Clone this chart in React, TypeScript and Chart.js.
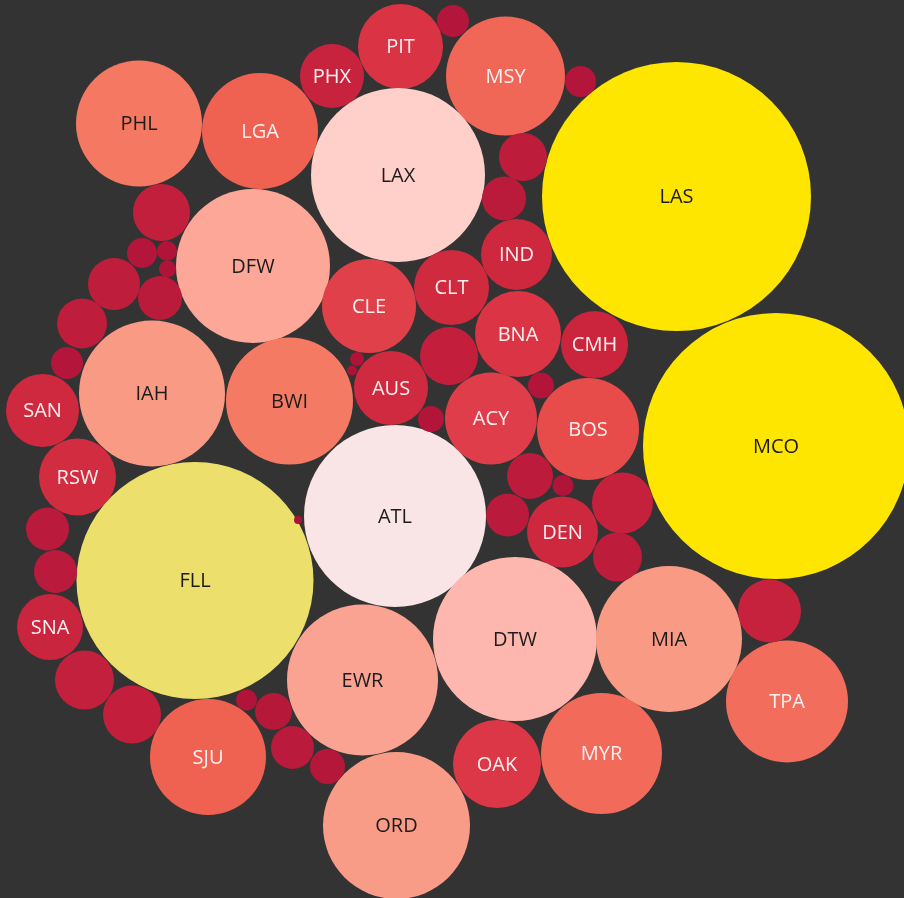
import React, { useEffect, useRef } from "react";
import { Chart, registerables } from "chart.js";

Chart.register(...registerables);

// Airport codes ("" = unlabeled bubble)
const labels: string[] = [
  "PIT", "PHX", "MSY", "PHL", "LGA", "LAX", "LAS", "DFW", "IND", "CLT",
  "CLE", "BNA", "CMH", "IAH", "BWI", "AUS", "ACY", "BOS", "MCO", "SAN",
  "RSW", "ATL", "DEN", "FLL", "SNA", "DTW", "MIA", "TPA", "EWR", "SJU",
  "OAK", "MYR", "ORD",
  "", "", "", "", "", "", "", "", "", "",
  "", "", "", "", "", "", "", "", "", "",
  "", "", "", "", "", "", "", "", "", "",
  "", "",
];

// packed-bubble layout values (x, y) and bubble sizes
const xValues: number[] = [
  400.5, 332, 505.5, 139, 260, 398, 676.5, 253, 516.5, 451.5,
  369, 518, 594.5, 152, 289.5, 391, 491, 588, 776, 42.5,
  77.5, 395, 562.5, 195, 50, 515, 669, 787, 362.5, 208,
  497, 601.5, 396.5,
  453, 580.5, 523, 504, 161.5, 142, 167, 167.5, 114, 160,
  82, 67, 449, 357, 352, 431, 541, 530, 563, 622.5,
  507.5, 617.5, 298, 47.5, 55.5, 769.5, 84.5, 132, 246.5, 273.5,
  292.5, 327.5,
];

const yValues: number[] = [
  46.5, 76, 76, 123.5, 131, 175, 196.5, 266, 254.5, 287.5,
  306, 334, 344.5, 393.5, 401, 388, 418.5, 429, 446, 410.5,
  477, 516, 532, 580.5, 627, 639, 639, 701.5, 680, 757,
  764, 753.5, 825.5,
  21, 81.5, 157, 198.5, 212.5, 253, 251, 269, 284, 298,
  323.5, 363, 356, 359, 370.5, 419, 385.5, 476, 485.5, 503,
  515, 557, 520, 529, 571.5, 611, 680, 714.5, 700, 711.5,
  747.5, 766.5,
];

const sizes: number[] = [
  42.5, 32, 59.5, 63, 58, 87, 134.5, 77, 35.5, 37.5,
  47, 43, 33.5, 73, 63.5, 37, 46, 51, 133, 36.5,
  38.5, 91, 35.5, 118.5, 33, 82, 73, 61, 75.5, 58,
  44, 60.5, 73.5,
  16, 15.5, 24, 22, 28.5, 15, 10, 8.5, 26, 22,
  25, 16, 29, 7, 5, 13, 13, 23, 10.5, 30.5,
  21.5, 24.5, 4, 21.5, 21.5, 31.5, 29.5, 29, 10.5, 18.5,
  21.5, 17.5,
];

// colour scale (size -> colour)
const colorStops: [number, string][] = [
  [4, "#ad1236"],
  [16, "#b3163a"],
  [24, "#bd1c3b"],
  [30, "#c4203d"],
  [34, "#cc263e"],
  [38, "#d02b3f"],
  [43, "#db3444"],
  [47, "#e0404a"],
  [51, "#e84c4a"],
  [58, "#ef6252"],
  [60.5, "#f16a5a"],
  [63, "#f57862"],
  [73, "#f99a84"],
  [75.5, "#fba392"],
  [77, "#fca797"],
  [82, "#feb7ae"],
  [87, "#ffd0ca"],
  [91, "#f9e5e5"],
  [118.5, "#ecdf6c"],
  [133, "#ffe600"],
];

function hexToRgb(h: string): number[] {
  return [1, 3, 5].map((i) => parseInt(h.slice(i, i + 2), 16));
}

function colorFor(v: number): string {
  if (v <= colorStops[0][0]) return colorStops[0][1];
  for (let i = 1; i < colorStops.length; i++) {
    const [v1, c1] = colorStops[i];
    const [v0, c0] = colorStops[i - 1];
    if (v <= v1) {
      const t = (v - v0) / (v1 - v0);
      const a = hexToRgb(c0);
      const b = hexToRgb(c1);
      const m = a.map((x, k) => Math.round(x + (b[k] - x) * t));
      return `rgb(${m[0]},${m[1]},${m[2]})`;
    }
  }
  return colorStops[colorStops.length - 1][1];
}

const labelPlugin = {
  id: "bubbleLabels",
  afterDatasetsDraw(chart: any) {
    const ctx = chart.ctx;
    const meta = chart.getDatasetMeta(0);
    ctx.save();
    ctx.font = "20px 'Open Sans'";
    ctx.textAlign = "center";
    ctx.textBaseline = "middle";
    meta.data.forEach((el: any, i: number) => {
      const text = labels[i];
      if (!text) return;
      ctx.fillStyle = sizes[i] >= 62.5 ? "#1c1c1c" : "#fdf0f0";
      ctx.fillText(text, el.x, el.y + 1);
    });
    ctx.restore();
  },
};

export default function App() {
  const ref = useRef<HTMLCanvasElement | null>(null);

  useEffect(() => {
    if (!ref.current) return;
    const data = labels.map((_, i) => ({ x: xValues[i], y: yValues[i], r: sizes[i] }));
    const chart = new Chart(ref.current, {
      type: "bubble",
      data: {
        datasets: [
          {
            label: "Airports",
            data,
            backgroundColor: sizes.map((s) => colorFor(s)),
            borderWidth: 0,
            hoverBorderWidth: 0,
            clip: false as any,
          },
        ],
      },
      options: {
        animation: false,
        responsive: false,
        maintainAspectRatio: false,
        layout: { padding: 0, autoPadding: false },
        plugins: {
          legend: { display: false },
          tooltip: { enabled: false },
        },
        scales: {
          x: { type: "linear", min: 0, max: 904, display: false },
          y: { type: "linear", min: 0, max: 898, reverse: true, display: false },
        },
      },
      plugins: [labelPlugin],
    });
    return () => chart.destroy();
  }, []);

  return (
    <div
      style={{
        position: "absolute",
        left: 0,
        top: 0,
        width: 904,
        height: 898,
        background: "#333333",
        overflow: "hidden",
      }}
    >
      <canvas ref={ref} width={904} height={898} style={{ display: "block" }} />
    </div>
  );
}
